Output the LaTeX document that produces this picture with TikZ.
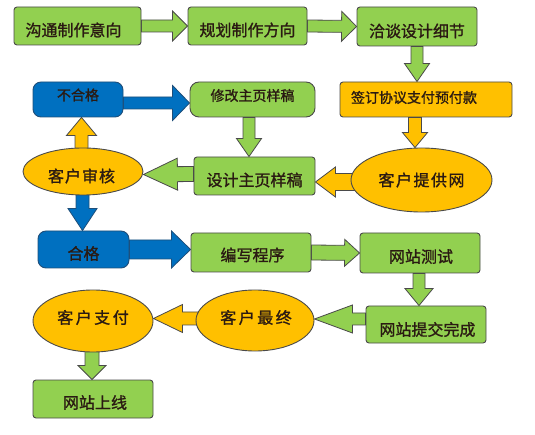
\documentclass[tikz,border=0pt]{standalone}
\usepackage{fontspec}
\setmainfont[FakeBold=1.2]{Noto Sans CJK SC}
\usetikzlibrary{calc,backgrounds,shapes.geometric}
\definecolor{gfill}{HTML}{92D050}
\definecolor{ofill}{HTML}{FFC000}
\definecolor{bfill}{HTML}{0070C0}
\definecolor{edge}{HTML}{4A4A4A}
\definecolor{bedge}{HTML}{1F4E79}
\definecolor{ink}{HTML}{2A1A12}
\tikzset{
  gbox/.style={draw=edge, line width=0.9pt, fill=gfill, rounded corners=3pt, inner sep=0pt},
  obox/.style={draw=edge, line width=0.9pt, fill=ofill, rounded corners=3pt, inner sep=0pt},
  bbox/.style={draw=bedge, line width=0.9pt, fill=bfill, rounded corners=8pt, inner sep=0pt},
  oell/.style={ellipse, draw=edge, line width=0.9pt, fill=ofill, inner sep=0pt},
  tl/.style={text=ink, inner sep=0pt, font=\fontsize{16pt}{18pt}\selectfont},
  ts/.style={text=ink, inner sep=0pt, font=\fontsize{14pt}{16pt}\selectfont},
  garr/.style={draw=edge, line width=0.8pt, fill=gfill},
  oarr/.style={draw=edge, line width=0.8pt, fill=ofill},
  barr/.style={draw=bedge, line width=0.8pt, fill=bfill},
  fat/.style args={#1/#2/#3}{to path={
    let \p1=(\tikztostart), \p2=(\tikztotarget),
        \n1={atan2(\y2-\y1,\x2-\x1)}, \n2={veclen(\x2-\x1,\y2-\y1)} in
    ($(\p1)+(\n1+90:#1)$) -- ($(\p1)+(\n1:{\n2-#3})+(\n1+90:#1)$)
    -- ($(\p1)+(\n1:{\n2-#3})+(\n1+90:#2)$) -- (\p2)
    -- ($(\p1)+(\n1:{\n2-#3})+(\n1-90:#2)$) -- ($(\p1)+(\n1:{\n2-#3})+(\n1-90:#1)$)
    -- ($(\p1)+(\n1-90:#1)$) -- cycle
  }}
}
\begin{document}
\begin{tikzpicture}[x=1pt,y=-1pt]
\useasboundingbox (0,0) rectangle (535,435);
% row 1
\node[gbox, minimum width=127pt, minimum height=38pt,
  label={[tl,xshift=-4pt,yshift=-4pt]center:沟通制作意向}] (b1) at (77.5,26) {};
\node[gbox, minimum width=119pt, minimum height=38pt,
  label={[tl,yshift=-4pt]center:规划制作方向}] (b2) at (247.5,26) {};
\node[gbox, minimum width=120pt, minimum height=39pt,
  label={[tl,yshift=-4.5pt]center:洽谈设计细节}] (b3) at (417,26.5) {};
% row 2
\node[bbox, minimum width=90pt, minimum height=35pt,
  label={[ts,yshift=4.5pt]center:不合格}] (n1) at (78,99.5) {};
\node[gbox, rounded corners=9pt, minimum width=125pt, minimum height=35pt,
  label={[ts,yshift=4pt]center:修改主页样稿}] (b5) at (252.5,99.5) {};
\node[obox, minimum width=172pt, minimum height=35pt,
  label={[ts,xshift=-12pt,yshift=2pt]center:签订协议支付预付款}] (b4) at (426,99.5) {};
% row 3
\node[oell, minimum width=120pt, minimum height=47pt,
  label={[tl,xshift=-1.5pt,yshift=-4.5pt]center:客\kern1pt 户\kern1pt 审\kern1pt 核}] (e1) at (83,171.5) {};
\node[gbox, minimum width=121pt, minimum height=38pt,
  label={[tl,yshift=-4pt]center:设计主页样稿}] (b6) at (254.5,176) {};
\node[oell, minimum width=141pt, minimum height=64pt,
  label={[tl]center:客\kern1.5pt 户\kern1.5pt 提\kern1.5pt 供\kern1.5pt 网}] (e2) at (421.5,180) {};
% row 4
\node[bbox, minimum width=91pt, minimum height=37pt,
  label={[tl,yshift=-4pt]center:合格}] (n2) at (83.5,249.5) {};
\node[gbox, minimum width=120pt, minimum height=39pt,
  label={[tl,xshift=1.5pt,yshift=-2.5pt]center:编写程序}] (b7) at (251,252.5) {};
\node[gbox, minimum width=120pt, minimum height=40pt,
  label={[tl,xshift=1pt,yshift=-3.5pt]center:网站测试}] (b8) at (420,253) {};
% row 5
\node[oell, minimum width=120pt, minimum height=62pt,
  label={[tl,yshift=3.5pt]center:客\kern2.5pt 户\kern2.5pt 支\kern2.5pt 付}] (e4) at (93,321) {};
\node[oell, minimum width=118pt, minimum height=61pt,
  label={[tl,xshift=1pt,yshift=3pt]center:客\kern2.5pt 户\kern2.5pt 最\kern2.5pt 终}] (e3) at (255,320.5) {};
\node[gbox, minimum width=120pt, minimum height=37pt,
  label={[tl,xshift=1.5pt,yshift=-5pt]center:网站提交完成}] (b9) at (426,324.5) {};
% row 6
\node[gbox, minimum width=120pt, minimum height=38pt,
  label={[tl,xshift=2pt,yshift=-3.5pt]center:网站上线}] (b10) at (93,399) {};
% arrows
\begin{scope}[on background layer]
\draw[garr] (b1.east) to[fat=6pt/15pt/15pt] (b2.west);
\draw[garr] (b2.east) to[fat=6pt/15pt/15pt] (b3.west);
\draw[garr] (b3.south) to[fat=6pt/12.5pt/18pt] ([xshift=-9pt]b4.north);
\draw[barr] ([yshift=-3.5pt]n1.east) to[fat=6pt/17.5pt/17pt] ([yshift=-3.5pt]b5.west);
\draw[garr] ([xshift=-3.5pt]b5.south) to[fat=6pt/12.5pt/18pt] ([xshift=-5.5pt]b6.north);
\draw[oarr] ([xshift=-1.5pt,yshift=-4pt]e1.north) to[fat=6.5pt/15pt/18pt] ([xshift=3.5pt]n1.south);
\draw[garr] ([yshift=2pt]b6.west) to[fat=7.5pt/16pt/34pt] ([yshift=-3pt]e1.east);
\draw[oarr] ([xshift=5pt,yshift=-2pt]e2.west) to[fat=8.5pt/15pt/20pt] ([yshift=-6pt]b6.east);
\draw[oarr] ([xshift=-11pt]b4.south) to[fat=6.5pt/12.5pt/15pt] ([xshift=-6.5pt]e2.north);
\draw[barr] ([xshift=-0.5pt,yshift=4pt]e1.south) to[fat=6.5pt/14.5pt/22pt] ([xshift=-1pt]n2.north);
\draw[barr] (n2.east) to[fat=9.5pt/18.5pt/19pt] ([yshift=3pt]b7.west);
\draw[garr] (b7.east) to[fat=7.5pt/13.5pt/15pt] (b8.west);
\draw[garr] ([xshift=-1pt]b8.south) to[fat=6pt/14pt/17pt] ([xshift=-7pt]b9.north);
\draw[garr] ([yshift=5.5pt]b9.west) to[fat=6pt/14pt/38pt] ([yshift=1.5pt]e3.east);
\draw[oarr] ([xshift=4pt,yshift=2pt]e3.west) to[fat=6.5pt/14pt/29pt] ([yshift=2.5pt]e4.east);
\draw[garr] ([xshift=-1pt,yshift=4pt]e4.south) to[fat=7pt/14pt/14pt] ([xshift=-1pt]b10.north);
\end{scope}
\end{tikzpicture}
\end{document}
